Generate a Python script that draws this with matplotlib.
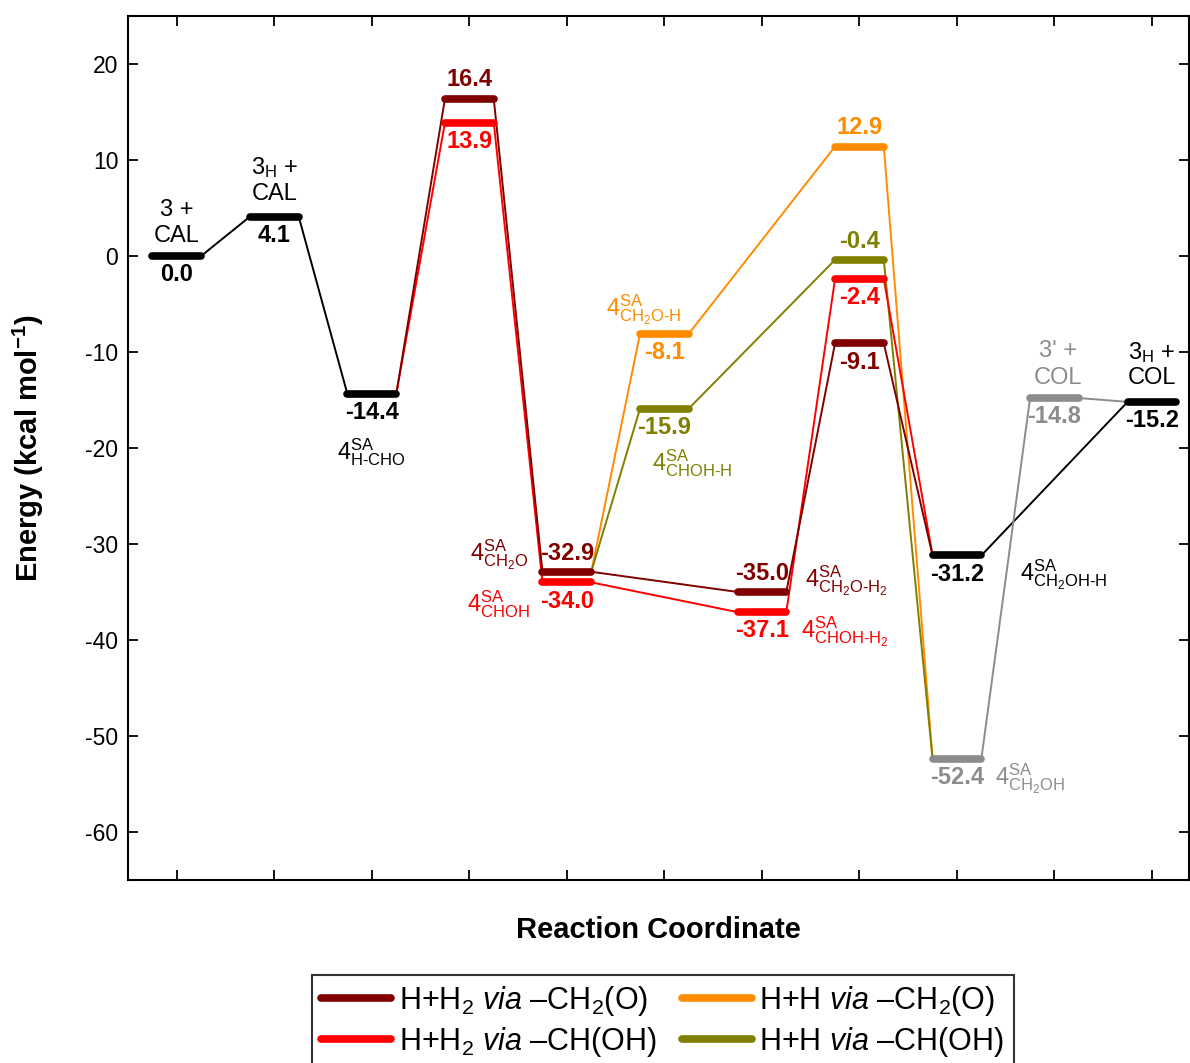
import numpy as np
import matplotlib.pyplot as plt
from matplotlib.lines import Line2D

plt.rcParams['font.family'] = ['Liberation Sans', 'DejaVu Sans']
plt.rcParams['mathtext.fontset'] = 'custom'
plt.rcParams['mathtext.rm'] = 'Liberation Sans'
plt.rcParams['mathtext.it'] = 'Liberation Sans:italic'
plt.rcParams['mathtext.bf'] = 'Liberation Sans:bold'
plt.rcParams['mathtext.sf'] = 'Liberation Sans'
plt.rcParams['axes.unicode_minus'] = False

# connector paths: reaction step index and energy (kcal/mol)
start_steps = [1, 2, 3]
start_energy = [0.0, 4.1, -14.4]
h_h2_ch2o_steps = [3, 4, 5, 7, 8, 9]
h_h2_ch2o_energy = [-14.4, 16.4, -32.9, -35.0, -9.1, -31.2]
h_h2_choh_steps = [3, 4, 5, 7, 8, 9]
h_h2_choh_energy = [-14.4, 13.9, -34.0, -37.1, -2.4, -31.2]
h_h_ch2o_steps = [5, 6, 8, 9]
h_h_ch2o_energy = [-32.9, -8.1, 11.4, -52.4]
h_h_choh_steps = [5, 6, 8, 9]
h_h_choh_energy = [-32.9, -15.9, -0.4, -52.4]
col_steps = [9, 11]
col_energy = [-31.2, -15.2]
col_alt_steps = [9, 10, 11]
col_alt_energy = [-52.4, -14.8, -15.2]

# horizontal levels
level_steps = [1, 2, 3, 4, 4, 5, 5, 6, 6, 7, 7, 8, 8, 8, 8, 9, 9, 10, 11]
level_energy = [0.0, 4.1, -14.4, 16.4, 13.9, -32.9, -34.0, -8.1, -15.9,
                -35.0, -37.1, 11.4, -0.4, -2.4, -9.1, -31.2, -52.4, -14.8, -15.2]
level_route = ['start', 'start', 'start', 'h_h2_ch2o', 'h_h2_choh',
               'h_h2_ch2o', 'h_h2_choh', 'h_h_ch2o', 'h_h_choh',
               'h_h2_ch2o', 'h_h2_choh', 'h_h_ch2o', 'h_h_choh',
               'h_h2_choh', 'h_h2_ch2o', 'start', 'col_alt', 'col_alt', 'start']
level_text = ['0.0', '4.1', '-14.4', '16.4', '13.9', '-32.9', '-34.0', '-8.1',
              '-15.9', '-35.0', '-37.1', '12.9', '-0.4', '-2.4', '-9.1',
              '-31.2', '-52.4', '-14.8', '-15.2']

legend_labels = [r'H+H$_2$ $\mathit{via}$ –CH$_2$(O)',
                 r'H+H$_2$ $\mathit{via}$ –CH(OH)',
                 r'H+H $\mathit{via}$ –CH$_2$(O)',
                 r'H+H $\mathit{via}$ –CH(OH)']

colors = {
    'start': 'black',
    'h_h2_ch2o': '#800000',
    'h_h2_choh': '#ff0000',
    'h_h_ch2o': '#ff8c00',
    'h_h_choh': '#808000',
    'col_alt': '#8c8c8c',
}

half = 0.25

fig = plt.figure(figsize=(11.9, 10.63), dpi=100)
ax = fig.add_axes([0.1076, 0.1722, 0.8916, 0.8128])


def connect(steps, energy, color, lw=1.4):
    for i in range(len(steps) - 1):
        ax.plot([steps[i] + half, steps[i + 1] - half], [energy[i], energy[i + 1]],
                color=color, lw=lw, zorder=2)


connect(start_steps, start_energy, colors['start'])
connect(col_steps, col_energy, colors['start'])
connect(col_alt_steps, col_alt_energy, colors['col_alt'])
connect(h_h_ch2o_steps, h_h_ch2o_energy, colors['h_h_ch2o'])
connect(h_h_choh_steps, h_h_choh_energy, colors['h_h_choh'])
connect(h_h2_choh_steps, h_h2_choh_energy, colors['h_h2_choh'])
connect(h_h2_ch2o_steps, h_h2_ch2o_energy, colors['h_h2_ch2o'])

# which side the value sits on (1 above, -1 below)
value_side = [-1, -1, -1, 1, -1, 1, -1, -1, -1, 1, -1, 1, 1, -1, -1, -1, -1, -1, -1]
for s, e, r, t, side in zip(level_steps, level_energy, level_route, level_text, value_side):
    ax.plot([s - half, s + half], [e, e], color=colors[r], lw=5.5,
            solid_capstyle='round', zorder=3)
    ax.text(s, e + side * 1.95, t, color=colors[r], fontsize=17, fontweight='bold',
            ha='center', va='center', zorder=4)

# species labels
fs = 17
ax.text(1, 3.4, '3 +\nCAL', ha='center', va='center', fontsize=fs, linespacing=1.25)
ax.text(2, 7.9, '3$_\\mathrm{H}$ +\nCAL', ha='center', va='center', fontsize=fs, linespacing=1.15)
ax.text(11, -11.3, '3$_\\mathrm{H}$ +\nCOL', ha='center', va='center', fontsize=fs, linespacing=1.15)
ax.text(10.04, -11.3, "3' +\nCOL", ha='center', va='center', fontsize=fs, linespacing=1.25,
        color=colors['col_alt'])

ax.text(3, -20.4, r'$4^{\mathrm{SA}}_{\text{H-CHO}}$', ha='center', va='center',
        fontsize=fs, color='black')
ax.text(4.6, -31.1, r'$4^{\mathrm{SA}}_{\mathrm{CH_2O}}$', ha='right', va='center',
        fontsize=fs, color=colors['h_h2_ch2o'])
ax.text(4.62, -36.3, r'$4^{\mathrm{SA}}_{\mathrm{CHOH}}$', ha='right', va='center',
        fontsize=fs, color=colors['h_h2_choh'])
ax.text(5.79, -5.6, r'$4^{\mathrm{SA}}_{\mathrm{CH_2O}\text{-H}}$', ha='center', va='center',
        fontsize=fs, color=colors['h_h_ch2o'])
ax.text(6.28, -21.6, r'$4^{\mathrm{SA}}_{\text{CHOH-H}}$', ha='center', va='center',
        fontsize=fs, color=colors['h_h_choh'])
ax.text(7.44, -33.8, r'$4^{\mathrm{SA}}_{\mathrm{CH_2O}\text{-}\mathrm{H_2}}$', ha='left', va='center',
        fontsize=fs, color=colors['h_h2_ch2o'])
ax.text(7.40, -39.1, r'$4^{\mathrm{SA}}_{\text{CHOH-}\mathrm{H_2}}$', ha='left', va='center',
        fontsize=fs, color=colors['h_h2_choh'])
ax.text(9.65, -33.2, r'$4^{\mathrm{SA}}_{\mathrm{CH_2OH}\text{-H}}$', ha='left', va='center',
        fontsize=fs, color='black')
ax.text(9.39, -54.5, r'$4^{\mathrm{SA}}_{\mathrm{CH_2OH}}$', ha='left', va='center',
        fontsize=fs, color=colors['col_alt'])

ax.set_xlim(0.5, 11.38)
ax.set_ylim(-65, 25)
ax.set_xticks(np.arange(1, 12))
ax.set_yticks(np.arange(-60, 21, 10))
ax.tick_params(axis='both', direction='in', length=7, width=1.3, labelsize=16.5,
               top=True, right=True, labelbottom=False)
ax.tick_params(axis='y', pad=7)
for sp in ax.spines.values():
    sp.set_linewidth(1.5)

ax.set_xlabel('Reaction Coordinate', fontsize=21, fontweight='bold', labelpad=26)
ax.set_ylabel('Energy (kcal mol$^{\\mathbf{-1}}$)', fontsize=21, fontweight='bold')
ax.yaxis.set_label_coords(-0.077, 0.5)

handles = [Line2D([], [], color=colors[k], lw=5.5, solid_capstyle='round')
           for k in ['h_h2_ch2o', 'h_h2_choh', 'h_h_ch2o', 'h_h_choh']]
leg = fig.legend(handles, legend_labels, loc='upper center', bbox_to_anchor=(0.557, 0.083),
                 ncol=2, fontsize=22, frameon=True, fancybox=False, edgecolor='black',
                 handlelength=2.3, handletextpad=0.25, columnspacing=0.8, labelspacing=0.22,
                 borderpad=0.3, borderaxespad=0)
leg.get_frame().set_linewidth(1.5)

fig.savefig('out.png', dpi=100)
